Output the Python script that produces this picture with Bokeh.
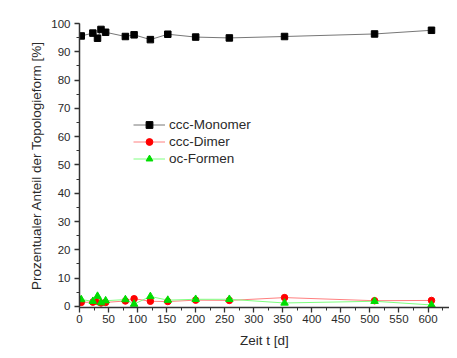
from bokeh.plotting import figure
from bokeh.models import Range1d, Legend, LegendItem, FixedTicker
from bokeh.embed import file_html
from bokeh.resources import INLINE

days = [3, 23, 31, 37, 45, 79, 94, 122, 152, 200, 258, 353, 508, 606]
monomer = [95.6, 96.6, 94.8, 97.9, 96.9, 95.4, 96.0, 94.3, 96.2, 95.2, 94.9, 95.4, 96.3, 97.6]
dimer = [1.4, 1.5, 1.8, 1.2, 1.4, 1.9, 2.7, 1.8, 1.7, 2.2, 2.1, 3.1, 2.0, 2.1]
oc_forms = [2.4, 1.8, 3.6, 1.3, 2.0, 2.4, 0.8, 3.5, 2.2, 2.5, 2.5, 1.2, 1.8, 0.5]

x_ticks = list(range(0, 651, 50))
y_ticks = list(range(0, 101, 10))

FONT = "Liberation Sans"
TXT = "#2a2a2a"

p = figure(width=449, height=350, output_backend="svg", toolbar_location=None,
           x_range=Range1d(0, 637), y_range=Range1d(-0.4, 100),
           min_border_left=79, min_border_right=0, min_border_top=23, min_border_bottom=43)
p.outline_line_color = None
p.xgrid.visible = False
p.ygrid.visible = False
p.background_fill_color = "white"
p.border_fill_color = "white"

for ax in (p.xaxis[0], p.yaxis[0]):
    ax.axis_line_color = "#333333"
    ax.axis_line_width = 1.5
    ax.major_tick_line_color = "#333333"
    ax.minor_tick_line_color = "#333333"
    ax.major_tick_line_width = 1.3
    ax.minor_tick_line_width = 1.0
    ax.major_tick_in = 0
    ax.major_tick_out = 5
    ax.minor_tick_in = 0
    ax.minor_tick_out = 3
    ax.major_label_text_font = FONT
    ax.major_label_text_font_size = "11.5px"
    ax.major_label_text_color = TXT
    ax.axis_label_text_font = FONT
    ax.axis_label_text_font_size = "13.5px"
    ax.axis_label_text_font_style = "normal"
    ax.axis_label_text_color = TXT

p.xaxis[0].ticker = FixedTicker(ticks=x_ticks, minor_ticks=list(range(0, 651, 25)))
p.yaxis[0].ticker = FixedTicker(ticks=y_ticks, minor_ticks=list(range(0, 101, 5)))
p.xaxis[0].axis_label = "Zeit t [d]"
p.yaxis[0].axis_label = "Prozentualer Anteil der Topologieform [%]"
p.xaxis[0].major_label_standoff = 2
p.yaxis[0].major_label_standoff = 4
p.xaxis[0].axis_label_standoff = 7
p.yaxis[0].axis_label_standoff = 4

l1 = p.line(days, monomer, line_color="#777777", line_width=1)
s1 = p.scatter(days, monomer, marker="square", size=6.5, fill_color="black", line_color="black")
l2 = p.line(days, dimer, line_color="#ff8080", line_width=1)
s2 = p.scatter(days, dimer, marker="circle", size=6.5, fill_color="#ff0000", line_color="#ff0000")
l3 = p.line(days, oc_forms, line_color="#80ff80", line_width=1)
s3 = p.scatter(days, oc_forms, marker="triangle", size=7.5, fill_color="#00dd00", line_color="#00dd00")

legend = Legend(items=[
    LegendItem(label="ccc-Monomer", renderers=[l1, s1]),
    LegendItem(label="ccc-Dimer", renderers=[l2, s2]),
    LegendItem(label="oc-Formen", renderers=[l3, s3]),
], location=(54, 140))
legend.border_line_color = None
legend.background_fill_alpha = 0
legend.padding = 0
legend.margin = 0
legend.spacing = 0
legend.glyph_width = 32
legend.glyph_height = 17
legend.label_standoff = 4
legend.label_height = 17
legend.label_text_font = FONT
legend.label_text_font_size = "13.5px"
legend.label_text_color = TXT
p.add_layout(legend, "center")

open("out.html", "w").write(file_html(p, INLINE))
